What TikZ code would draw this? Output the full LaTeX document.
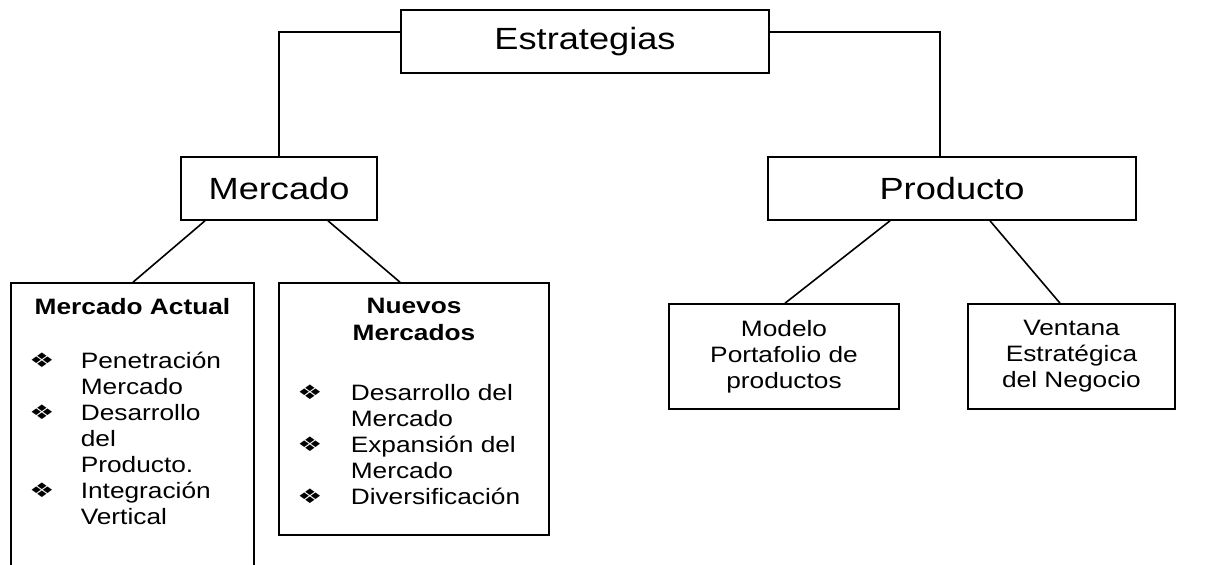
\documentclass[tikz,border=0pt]{standalone}
\usepackage{fontspec}
\setmainfont{Liberation Sans}[FakeStretch=1.18]
\newfontfamily\dvsym{DejaVu Sans}[FakeStretch=1.4]
\newcommand\Lfont{\fontsize{23}{27}\selectfont}
\newcommand\Sfont{\fontsize{16.7}{19.5}\selectfont}
\newcommand\Bfont{\dvsym\fontsize{15}{15}\selectfont}
\begin{document}
\begin{tikzpicture}[x=0.75pt,y=-0.75pt,line width=1.2pt,
  bx/.style n args={2}{draw, inner sep=0pt, minimum width=#1*0.75pt, minimum height=#2*0.75pt, align=center},
  big/.style={font=\Lfont},
  sm/.style={font=\Sfont, inner sep=0pt},
  bul/.style={font=\Bfont, inner sep=0pt},
  ln/.style={sm, anchor=base west},
  ttl/.style={font=\Sfont\bfseries, inner sep=0pt, anchor=base}]
\useasboundingbox (0,0) rectangle (1217,564);
\clip (0,0) rectangle (1217,564);
% boxes
\node[bx={368}{63}, big] (est) at (585,41.5) {Estrategias};
\node[bx={196}{63}, big] (merc) at (279,188.5) {Mercado};
\node[bx={368}{63}, big] (prod) at (952,188.5) {Producto};
\node[bx={243}{300}] (ma) at (132.5,433) {};
\node[bx={270}{252}] (nm) at (414,409) {};
\node[bx={230}{105}, sm] (mod) at (784,356.5) {Modelo\\Portafolio de\\productos};
\node[bx={207}{105}, sm] (ven) at (1071.5,356.5) {Ventana\\Estratégica\\del Negocio};
% connectors
\draw (est.west |- 0,32) -| (merc.north);
\draw (est.east |- 0,32) -| (940,0 |- prod.north);
\draw (205,0 |- merc.south) -- (133,0 |- ma.north);
\draw (328,0 |- merc.south) -- (400,0 |- nm.north);
\draw (890,0 |- prod.south) -- (785,0 |- mod.north);
\draw (990,0 |- prod.south) -- (1060,0 |- ven.north);
% Mercado Actual
\node[ttl] (mat) at (132.5,314) {Mercado Actual};
\node[bul] (ba1) at (42,360) {❖};
\node[bul] (ba2) at (42,412) {❖};
\node[bul] (ba3) at (42,490) {❖};
\node[ln] (la1) at (80,368) {Penetración};
\node[ln] (la2) at (80,394) {Mercado};
\node[ln] (la3) at (80,420) {Desarrollo};
\node[ln] (la4) at (80,446) {del};
\node[ln] (la5) at (80,472) {Producto.};
\node[ln] (la6) at (80,498) {Integración};
\node[ln] (la7) at (80,524) {Vertical};
% Nuevos Mercados
\node[ttl] (nmt1) at (414,313) {Nuevos};
\node[ttl] (nmt2) at (414,340) {Mercados};
\node[bul] (bn1) at (310,392) {❖};
\node[bul] (bn2) at (310,444) {❖};
\node[bul] (bn3) at (310,496) {❖};
\node[ln] (ln1) at (350,400) {Desarrollo del};
\node[ln] (ln2) at (350,426) {Mercado};
\node[ln] (ln3) at (350,452) {Expansión del};
\node[ln] (ln4) at (350,478) {Mercado};
\node[ln] (ln5) at (350,504) {Diversificación};
\end{tikzpicture}
\end{document}
